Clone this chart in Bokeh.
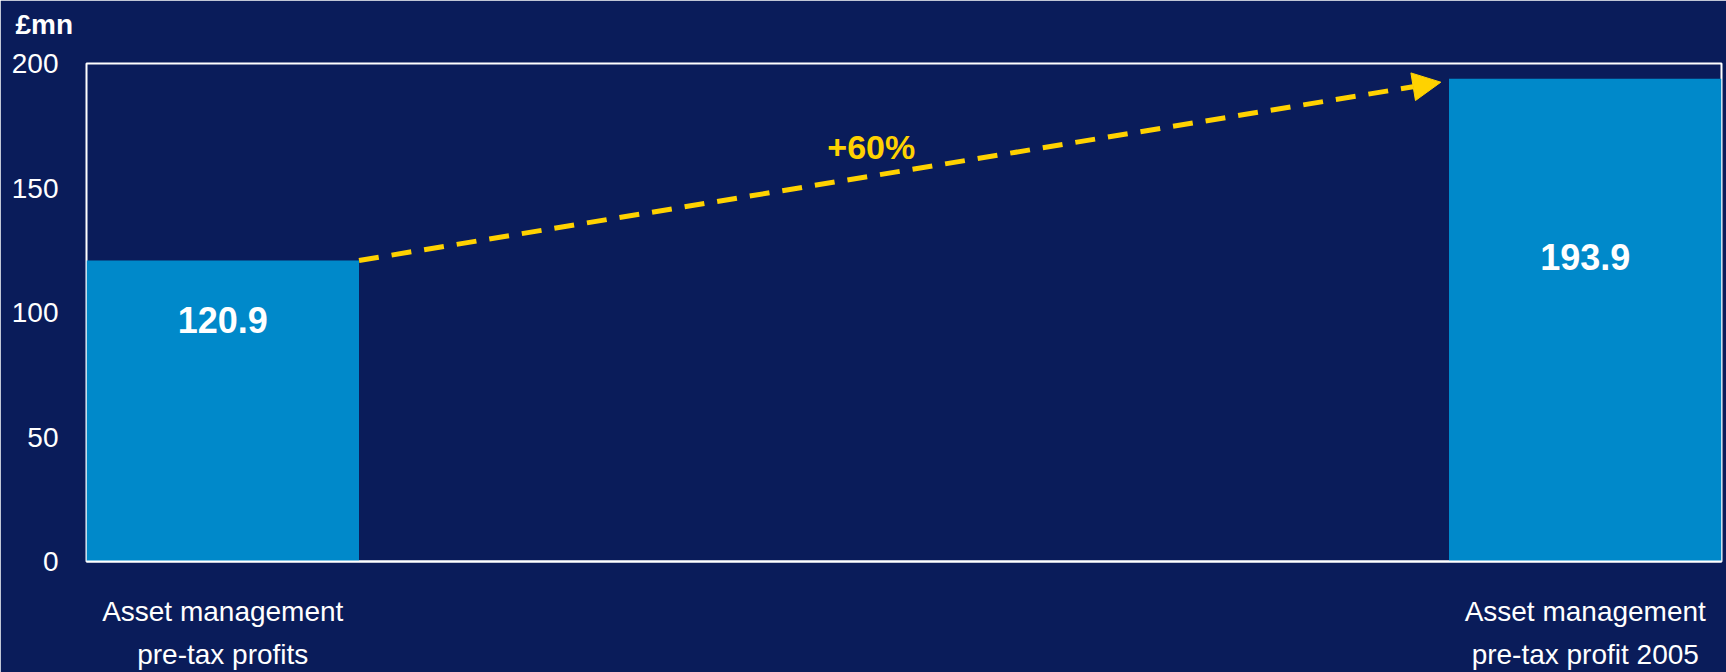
from bokeh.plotting import figure
from bokeh.models import Range1d, FixedTicker, Arrow, NormalHead, Label, ColumnDataSource, Title
from bokeh.core.properties import value
from bokeh.embed import file_html
from bokeh.resources import INLINE

categories = ["Asset management\npre-tax profits", "Asset management\npre-tax profit 2005"]
values = [120.9, 193.9]
value_labels = ["120.9", "193.9"]
growth_label = "+60%"
unit_label = "£mn"
y_ticks = [0, 50, 100, 150, 200]

BG = "#0a1c5a"
BAR = "#0089ca"
YEL = "#ffd200"
FONT = "Liberation Sans"

# layout (styles)
x_pos = [0.5, 5.5]
label_y = [97, 122.3]

p = figure(width=1726, height=672, output_backend="svg", toolbar_location=None,
           x_range=Range1d(0, 6), y_range=Range1d(0, 200),
           min_border_left=86, min_border_right=5, min_border_top=63, min_border_bottom=107)
p.background_fill_color = BG
p.border_fill_color = BG
p.outline_line_color = "white"
p.outline_line_width = 2
p.xgrid.visible = False
p.ygrid.visible = False

# spacer title (nearest the frame), then the unit label above it
p.add_layout(Title(text=" ", text_font=FONT, text_font_size="20px", standoff=0,
                   text_color=BG), "above")
p.add_layout(Title(text=unit_label, align="left", offset=-71, text_color="white",
                   text_font=FONT, text_font_style="bold", text_font_size="28px",
                   standoff=0), "above")

src = ColumnDataSource(dict(x=x_pos, top=values, ly=label_y, lab=value_labels))
p.vbar(x="x", top="top", bottom=0, width=1.0, source=src, fill_color=BAR, line_color=None)
p.text(x="x", y="ly", text="lab", source=src, text_color="white", text_font=value(FONT),
       text_font_style="bold", text_font_size="36px", text_align="center", text_baseline="middle")

arrow = Arrow(x_start=1.0, y_start=values[0], x_end=4.97, y_end=192.5,
              line_color=YEL, line_width=5, line_dash="20 13",
              end=NormalHead(size=28, fill_color=YEL, line_color=YEL))
p.add_layout(arrow)
p.add_layout(Label(x=2.88, y=166.5, text=growth_label, text_color=YEL, text_font=FONT,
                   text_font_style="bold", text_font_size="34px", text_align="center",
                   text_baseline="middle"))

p.yaxis.ticker = FixedTicker(ticks=y_ticks)
p.yaxis.axis_line_color = None
p.yaxis.major_tick_line_color = None
p.yaxis.minor_tick_line_color = None
p.yaxis.major_label_text_color = "white"
p.yaxis.major_label_text_font = FONT
p.yaxis.major_label_text_font_size = "28px"
p.yaxis.major_label_standoff = 22

p.xaxis.ticker = FixedTicker(ticks=x_pos)
p.xaxis.major_label_overrides = {x: c for x, c in zip(x_pos, categories)}
p.xaxis.axis_line_color = "white"
p.xaxis.axis_line_width = 2
p.xaxis.major_tick_line_color = None
p.xaxis.minor_tick_line_color = None
p.xaxis.major_label_text_color = "white"
p.xaxis.major_label_text_font = FONT
p.xaxis.major_label_text_font_size = "28px"
p.xaxis.major_label_text_line_height = 1.4
p.xaxis.major_label_standoff = 28

open("out.html", "w").write(file_html(p, INLINE))
